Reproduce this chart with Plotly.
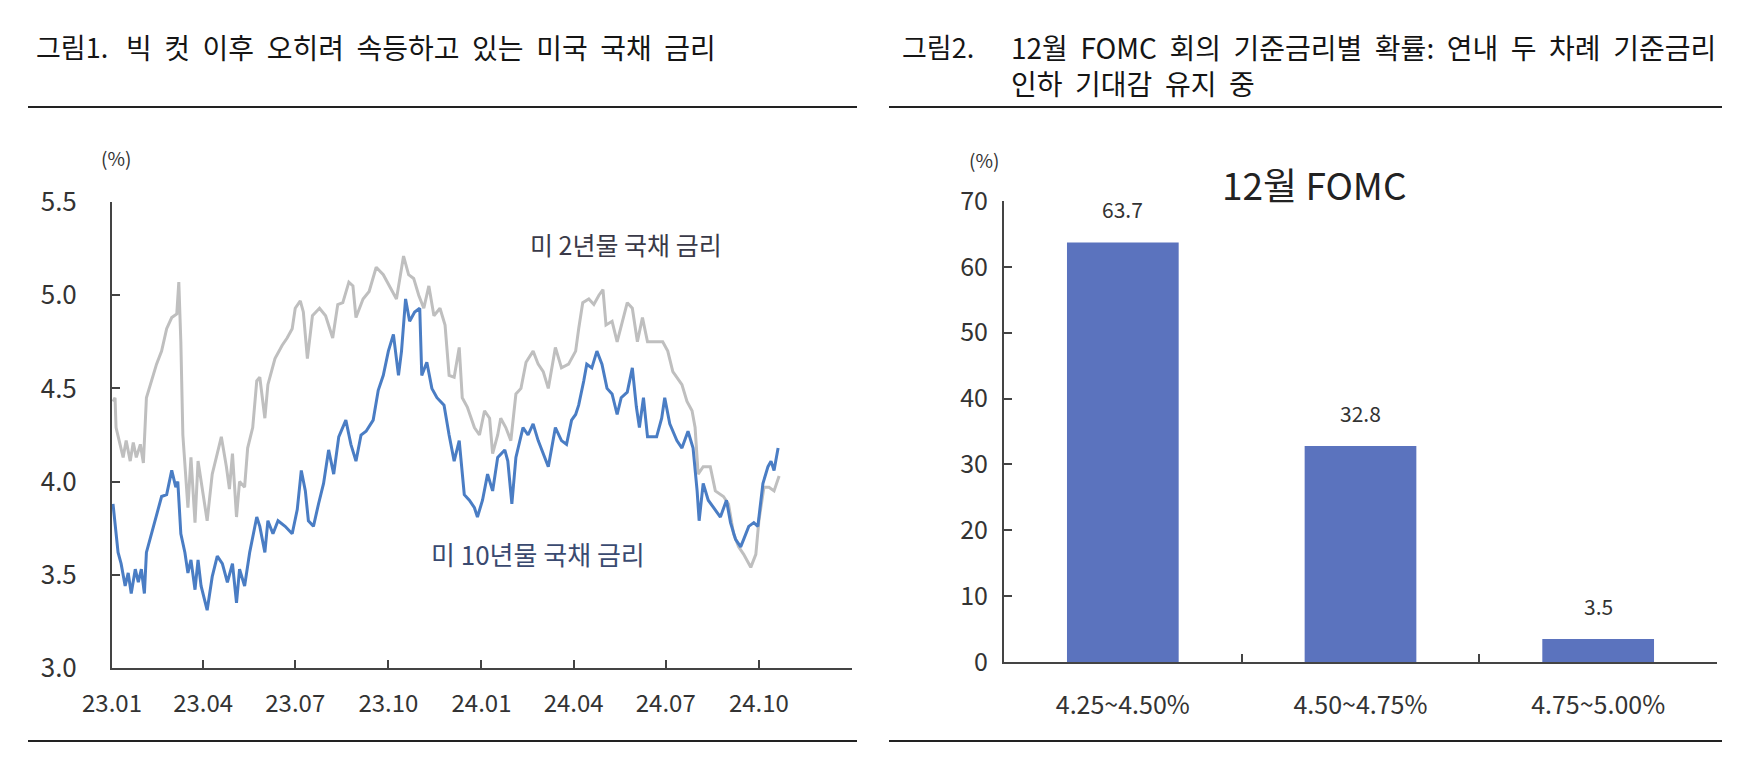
import plotly.graph_objects as go

# 미 2년물 국채 금리 (%)
y2_dates = [
    "2023-01-02", "2023-01-04", "2023-01-05", "2023-01-09", "2023-01-12", "2023-01-15",
    "2023-01-19", "2023-01-22", "2023-01-25", "2023-01-29", "2023-02-01", "2023-02-04",
    "2023-02-08", "2023-02-14", "2023-02-19", "2023-02-24", "2023-03-01", "2023-03-06",
    "2023-03-08", "2023-03-10", "2023-03-12", "2023-03-15", "2023-03-17", "2023-03-20",
    "2023-03-24", "2023-03-27", "2023-03-30", "2023-04-05", "2023-04-10", "2023-04-14",
    "2023-04-19", "2023-04-24", "2023-04-27", "2023-04-30", "2023-05-04", "2023-05-07",
    "2023-05-12", "2023-05-15", "2023-05-20", "2023-05-24", "2023-05-27", "2023-06-01",
    "2023-06-04", "2023-06-11", "2023-06-18", "2023-06-23", "2023-06-28", "2023-07-01",
    "2023-07-06", "2023-07-09", "2023-07-13", "2023-07-18", "2023-07-25", "2023-07-31",
    "2023-08-07", "2023-08-12", "2023-08-17", "2023-08-23", "2023-08-27", "2023-08-30",
    "2023-09-06", "2023-09-12", "2023-09-19", "2023-09-26", "2023-10-02", "2023-10-09",
    "2023-10-16", "2023-10-21", "2023-10-26", "2023-10-31", "2023-11-05", "2023-11-10",
    "2023-11-15", "2023-11-21", "2023-11-26", "2023-11-30", "2023-12-05", "2023-12-10",
    "2023-12-13", "2023-12-18", "2023-12-25", "2023-12-30", "2024-01-04", "2024-01-09",
    "2024-01-12", "2024-01-17", "2024-01-20", "2024-01-25", "2024-01-30", "2024-02-04",
    "2024-02-09", "2024-02-14", "2024-02-21", "2024-02-26", "2024-03-02", "2024-03-07",
    "2024-03-14", "2024-03-20", "2024-03-27", "2024-04-03", "2024-04-06", "2024-04-10",
    "2024-04-16", "2024-04-21", "2024-04-26", "2024-04-30", "2024-05-03", "2024-05-09",
    "2024-05-14", "2024-05-18", "2024-05-24", "2024-05-29", "2024-06-03", "2024-06-08",
    "2024-06-13", "2024-06-20", "2024-06-28", "2024-07-03", "2024-07-08", "2024-07-17",
    "2024-07-22", "2024-07-27", "2024-07-30", "2024-08-02", "2024-08-07", "2024-08-14",
    "2024-08-19", "2024-08-27", "2024-09-01", "2024-09-06", "2024-09-11", "2024-09-16",
    "2024-09-23", "2024-09-28", "2024-10-01", "2024-10-06", "2024-10-11", "2024-10-16",
    "2024-10-21",
]
y2_vals = [
    4.43, 4.45, 4.29, 4.20, 4.13, 4.22, 4.11, 4.21, 4.13, 4.20, 4.10, 4.45,
    4.52, 4.63, 4.70, 4.82, 4.88, 4.90, 5.07, 4.75, 4.25, 4.04, 3.86, 4.13,
    3.78, 4.11, 4.00, 3.79, 4.04, 4.13, 4.24, 4.08, 3.96, 4.15, 3.81, 4.00,
    3.97, 4.18, 4.29, 4.54, 4.56, 4.34, 4.52, 4.66, 4.73, 4.77, 4.82, 4.93,
    4.97, 4.91, 4.66, 4.89, 4.93, 4.89, 4.77, 4.95, 4.96, 5.07, 5.05, 4.88,
    4.98, 5.02, 5.15, 5.11, 5.05, 4.98, 5.21, 5.11, 5.09, 5.00, 4.93, 5.05,
    4.89, 4.93, 4.84, 4.57, 4.56, 4.72, 4.45, 4.40, 4.29, 4.25, 4.38, 4.34,
    4.15, 4.25, 4.34, 4.29, 4.22, 4.47, 4.50, 4.64, 4.70, 4.63, 4.59, 4.50,
    4.72, 4.61, 4.63, 4.70, 4.82, 4.96, 4.98, 4.95, 5.00, 5.03, 4.84, 4.86,
    4.75, 4.84, 4.96, 4.93, 4.75, 4.88, 4.75, 4.75, 4.75, 4.70, 4.59, 4.52,
    4.43, 4.38, 4.29, 4.04, 4.08, 4.08, 3.95, 3.92, 3.88, 3.72, 3.65, 3.61,
    3.54, 3.61, 3.79, 3.97, 3.97, 3.95, 4.03,
]

# 미 10년물 국채 금리 (%)
y10_dates = [
    "2023-01-02", "2023-01-04", "2023-01-07", "2023-01-10", "2023-01-14", "2023-01-17",
    "2023-01-20", "2023-01-24", "2023-01-27", "2023-01-30", "2023-02-02", "2023-02-04",
    "2023-02-09", "2023-02-14", "2023-02-19", "2023-02-24", "2023-03-01", "2023-03-05",
    "2023-03-07", "2023-03-10", "2023-03-14", "2023-03-17", "2023-03-20", "2023-03-24",
    "2023-03-27", "2023-03-30", "2023-04-05", "2023-04-10", "2023-04-15", "2023-04-20",
    "2023-04-25", "2023-04-30", "2023-05-04", "2023-05-07", "2023-05-12", "2023-05-17",
    "2023-05-24", "2023-05-27", "2023-06-01", "2023-06-04", "2023-06-09", "2023-06-14",
    "2023-06-21", "2023-06-28", "2023-07-03", "2023-07-07", "2023-07-11", "2023-07-14",
    "2023-07-19", "2023-07-24", "2023-07-29", "2023-08-03", "2023-08-08", "2023-08-13",
    "2023-08-17", "2023-08-20", "2023-08-25", "2023-08-30", "2023-09-04", "2023-09-09",
    "2023-09-16", "2023-09-21", "2023-09-26", "2023-10-01", "2023-10-06", "2023-10-11",
    "2023-10-14", "2023-10-18", "2023-10-22", "2023-10-27", "2023-11-01", "2023-11-03",
    "2023-11-08", "2023-11-13", "2023-11-18", "2023-11-25", "2023-11-30", "2023-12-05",
    "2023-12-10", "2023-12-15", "2023-12-20", "2023-12-25", "2023-12-28", "2024-01-02",
    "2024-01-07", "2024-01-12", "2024-01-17", "2024-01-24", "2024-01-27", "2024-01-31",
    "2024-02-04", "2024-02-11", "2024-02-16", "2024-02-21", "2024-02-26", "2024-03-02",
    "2024-03-07", "2024-03-14", "2024-03-20", "2024-03-25", "2024-03-30", "2024-04-03",
    "2024-04-06", "2024-04-11", "2024-04-14", "2024-04-19", "2024-04-24", "2024-04-29",
    "2024-05-04", "2024-05-09", "2024-05-14", "2024-05-18", "2024-05-24", "2024-05-29",
    "2024-06-02", "2024-06-05", "2024-06-09", "2024-06-13", "2024-06-22", "2024-06-27",
    "2024-06-30", "2024-07-05", "2024-07-12", "2024-07-17", "2024-07-23", "2024-07-28",
    "2024-08-01", "2024-08-03", "2024-08-07", "2024-08-12", "2024-08-17", "2024-08-24",
    "2024-08-30", "2024-09-03", "2024-09-08", "2024-09-13", "2024-09-16", "2024-09-21",
    "2024-09-26", "2024-09-30", "2024-10-05", "2024-10-10", "2024-10-13", "2024-10-16",
    "2024-10-20",
]
y10_vals = [
    3.88, 3.76, 3.62, 3.56, 3.44, 3.51, 3.40, 3.53, 3.46, 3.53, 3.40, 3.62,
    3.72, 3.83, 3.92, 3.93, 4.06, 3.97, 4.00, 3.72, 3.62, 3.51, 3.58, 3.42,
    3.58, 3.44, 3.31, 3.49, 3.60, 3.56, 3.46, 3.56, 3.35, 3.53, 3.44, 3.62,
    3.81, 3.76, 3.62, 3.79, 3.72, 3.79, 3.76, 3.72, 3.85, 4.06, 3.95, 3.79,
    3.76, 3.88, 3.99, 4.17, 4.04, 4.24, 4.29, 4.33, 4.20, 4.11, 4.25, 4.27,
    4.33, 4.49, 4.57, 4.70, 4.79, 4.57, 4.70, 4.98, 4.86, 4.91, 4.93, 4.57,
    4.64, 4.50, 4.45, 4.41, 4.25, 4.11, 4.22, 3.93, 3.90, 3.86, 3.81, 3.90,
    4.04, 3.95, 4.13, 4.17, 4.11, 3.88, 4.13, 4.29, 4.25, 4.31, 4.22, 4.15,
    4.08, 4.29, 4.22, 4.20, 4.33, 4.36, 4.41, 4.54, 4.63, 4.61, 4.70, 4.63,
    4.50, 4.47, 4.36, 4.45, 4.48, 4.61, 4.40, 4.29, 4.45, 4.24, 4.24, 4.34,
    4.45, 4.31, 4.22, 4.18, 4.27, 4.18, 3.95, 3.79, 3.99, 3.90, 3.86, 3.81,
    3.90, 3.78, 3.69, 3.65, 3.69, 3.76, 3.78, 3.76, 3.99, 4.08, 4.11, 4.06,
    4.18,
]

x_tickvals = ["2023-01-01", "2023-04-01", "2023-07-01", "2023-10-01", "2024-01-01",
              "2024-04-01", "2024-07-01", "2024-10-01", "2025-01-01"]
x_ticktext = ["23.01", "23.04", "23.07", "23.10", "24.01", "24.04", "24.07", "24.10", ""]

# 12월 FOMC 기준금리별 확률 (%)
fomc_ranges = ["4.25~4.50%", "4.50~4.75%", "4.75~5.00%"]
fomc_probs = [63.7, 32.8, 3.5]

W, H = 1753, 775
KR = "Noto Sans CJK KR"


def px(x):
    return x / W


def py(y):
    return 1 - y / H


def spaced(s):
    # the source layout uses wide word gaps
    return s.replace(" ", "  ")


fig = go.Figure()

fig.add_trace(go.Scatter(
    x=y2_dates, y=y2_vals, mode="lines", name="미 2년물 국채 금리",
    line=dict(color="#BFBFBF", width=3), xaxis="x", yaxis="y",
))
fig.add_trace(go.Scatter(
    x=y10_dates, y=y10_vals, mode="lines", name="미 10년물 국채 금리",
    line=dict(color="#4A7DC4", width=3), xaxis="x", yaxis="y",
))
fig.add_trace(go.Bar(
    x=fomc_ranges, y=fomc_probs, marker=dict(color="#5B73BE", line=dict(width=0)),
    xaxis="x2", yaxis="y2", name="12월 FOMC",
))


def tfont(size):
    return dict(family=KR, size=size, color="#333333")


axis_common = dict(
    ticks="inside", ticklen=8, tickwidth=2, tickcolor="#444444",
    showline=True, linecolor="#444444", linewidth=2,
    showgrid=False, zeroline=False, automargin=False,
)

fig.update_layout(
    width=W, height=H,
    margin=dict(l=0, r=0, t=0, b=0, autoexpand=False),
    paper_bgcolor="white", plot_bgcolor="white",
    showlegend=False,
    bargap=0.53,
    xaxis=dict(
        type="date", domain=[px(104), px(844)], range=["2023-01-01", "2025-01-01"],
        tickvals=x_tickvals, ticktext=x_ticktext, tickfont=tfont(24),
        ticklabelstandoff=13, **axis_common,
    ),
    yaxis=dict(
        domain=[py(660), py(194)], range=[3.0, 5.5], dtick=0.5, tickformat=".1f",
        tickfont=tfont(26), ticklabelstandoff=28, **axis_common,
    ),
    xaxis2=dict(
        type="category", domain=[px(996), px(1709)], range=[-0.5, 2.5],
        tickson="boundaries", tickfont=tfont(25), ticklabelstandoff=20,
        anchor="y2", **axis_common,
    ),
    yaxis2=dict(
        domain=[py(654), py(193)], range=[0, 70], dtick=10,
        tickfont=tfont(25), ticklabelstandoff=9, anchor="x2", **axis_common,
    ),
)
fig.update_yaxes(linecolor="#111111", selector=dict(anchor="x"))

# header rules
for x0, x1 in [(20, 849), (881, 1714)]:
    for y in (99, 733):
        fig.add_shape(type="line", xref="paper", yref="paper",
                      x0=px(x0), x1=px(x1), y0=py(y), y1=py(y),
                      line=dict(color="#222222", width=2))


def note(text, x, y, size, color="#222222", align="center"):
    fig.add_annotation(text=text, xref="paper", yref="paper", x=px(x), y=py(y),
                       xanchor="center", yanchor="middle", showarrow=False,
                       align=align, font=dict(family=KR, size=size, color=color))


note("그림1.", 64, 39, 27, "#151515")
note(spaced("빅 컷 이후 오히려 속등하고 있는 미국 국채 금리"), 413, 39, 28, "#151515")
note("그림2.", 930, 39, 27, "#151515")
note(spaced("12월 FOMC 회의 기준금리별 확률: 연내 두 차례 기준금리") + "<br>"
     + spaced("인하 기대감 유지 중"), 1355, 57, 28, "#151515", align="left")
note("(%)", 108, 149, 19, "#333333")
note("(%)", 976, 151, 19, "#333333")
note("미 2년물 국채 금리", 618, 236, 25, "#3A3A48")
note("미 10년물 국채 금리", 530, 545, 26, "#3A4A70")
note("12월 FOMC", 1306, 176, 37, "#222222")

for cat, val in zip(fomc_ranges, fomc_probs):
    fig.add_annotation(x=cat, y=val, xref="x2", yref="y2", text=f"{val:.1f}",
                       showarrow=False, yshift=33, yanchor="middle",
                       font=tfont(21))

fig.write_html("out.html")
